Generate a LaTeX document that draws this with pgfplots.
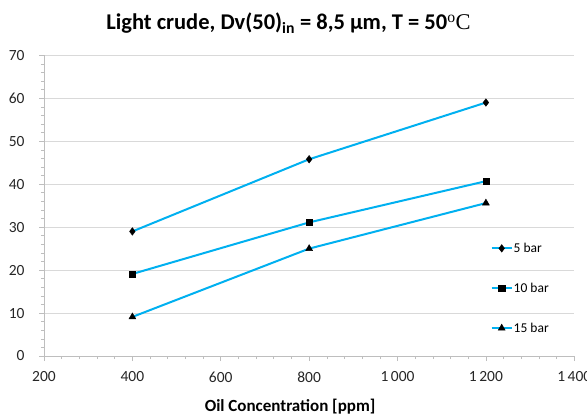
\documentclass[border=0pt]{standalone}
\usepackage{pgfplots}
\pgfplotsset{compat=1.18}
\usepackage{fontspec}
\setmainfont{Carlito}
\newfontfamily\serifc{Liberation Serif}
\definecolor{lineblue}{RGB}{0,176,240}
\definecolor{gridgray}{RGB}{217,217,217}
\definecolor{axgray}{RGB}{190,190,190}
\begin{document}
\begin{tikzpicture}[x=1pt,y=1pt]
\clip (-44,-60) rectangle (543,356);
\begin{axis}[
  at={(0,0)}, anchor=south west,
  scale only axis, width=530.3pt, height=300.7pt,
  xmin=200, xmax=1400, ymin=0, ymax=70,
  xtick={200,400,...,1400}, ytick={0,10,...,70},
  minor x tick num=4, minor y tick num=4,
  axis lines*=left,
  axis line style={draw=axgray, line width=0.8pt, -},
  tick style={draw=axgray, line width=0.6pt},
  tick align=outside,
  major tick length=5pt, minor tick length=3pt,
  ymajorgrids, grid style={draw=gridgray, line width=0.8pt},
  /pgf/number format/assume math mode=true,
  /pgf/number format/1000 sep={\,},
  tick label style={font=\fontsize{15.5}{16}\selectfont, text=black!85},
  yticklabel style={xshift=-11pt},
  xticklabel style={yshift=-7pt},
  xlabel={\textbf{Oil Concentration [ppm]}},
  xlabel style={font=\fontsize{17}{18}\selectfont, at={(rel axis cs:0.464,0)}, anchor=center, yshift=-51pt},
  title={\textbf{Light crude, Dv(50)\textsubscript{in} = 8,5 µm, T = 50}{\serifc\textsuperscript{o}C}},
  title style={font=\fontsize{22.5}{24}\selectfont, at={(rel axis cs:0.461,1)}, anchor=south, yshift=12pt},
  legend style={draw=none, fill=none, at={(rel axis cs:0.842,0.38)}, anchor=north west,
    font=\fontsize{13.5}{14}\selectfont, row sep=27pt, inner sep=0pt,
    nodes={inner sep=1pt}},
  legend cell align=left,
  legend image code/.code={
    \draw[lineblue, line width=2pt] (0pt,0pt) -- (20pt,0pt);
    \draw[mark repeat=2,mark phase=2, draw=none] plot coordinates {(0pt,0pt) (10pt,0pt) (20pt,0pt)};
  },
]
\addplot[lineblue, line width=2pt, mark=diamond*, mark size=3.8pt, mark options={fill=black, draw=black, solid, line width=0.4pt}] coordinates {(400,29.0) (800,45.8) (1200,59.0)};
\addlegendentry{5 bar}
\addplot[lineblue, line width=2pt, mark=square*, mark size=3.2pt, mark options={fill=black, draw=black, solid, line width=0.4pt}] coordinates {(400,19.1) (800,31.1) (1200,40.7)};
\addlegendentry{10 bar}
\addplot[lineblue, line width=2pt, mark=triangle*, mark size=4pt, mark options={fill=black, draw=black, solid, line width=0.4pt}] coordinates {(400,9.1) (800,25.0) (1200,35.6)};
\addlegendentry{15 bar}
\end{axis}
\end{tikzpicture}
\end{document}
